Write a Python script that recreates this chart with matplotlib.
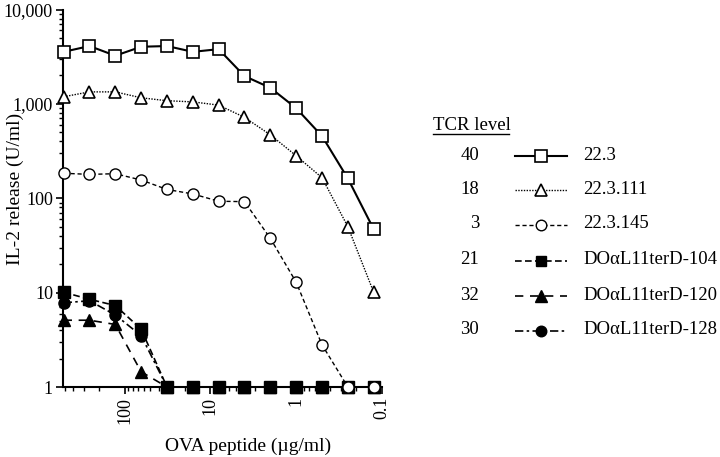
import matplotlib
matplotlib.use("Agg")
import matplotlib.pyplot as plt
from matplotlib.lines import Line2D
from matplotlib.ticker import FixedLocator, LogLocator, NullFormatter

plt.rcParams['font.family'] = ['Liberation Serif', 'DejaVu Serif']

# ---- data ----
ova = [512, 256, 128, 64, 32, 16, 8, 4, 2, 1, 0.5, 0.25, 0.125]
il2_223 = [3560, 4100, 3240, 4030, 4100, 3560, 3800, 1970, 1480, 900, 456, 162, 47]
il2_223_111 = [1190, 1340, 1340, 1160, 1080, 1050, 970, 720, 470, 282, 165, 50, 10.1]
il2_223_145 = [184, 179, 182, 156, 124, 111, 93, 92, 37.6, 12.9, 2.8, 1, 1]
il2_d104 = [10.1, 8.5, 7.3, 4.1, 1, 1, 1, 1, 1, 1, 1, 1, 1]
il2_d120 = [5.1, 5.1, 4.6, 1.45, 1, 1, 1, 1, 1, 1, 1, 1, 1]
il2_d128 = [7.8, 8.2, 5.8, 3.5, 1, 1, 1, 1, 1, 1, 1, 1, 1]

names = ["22.3", "22.3.111", "22.3.145", "DO\u03b1L11terD-104", "DO\u03b1L11terD-120", "DO\u03b1L11terD-128"]
tcr_levels = ["40", "18", "3", "21", "32", "30"]
series = [il2_223, il2_223_111, il2_223_145, il2_d104, il2_d120, il2_d128]

x_ticks = [100, 10, 1, 0.1]
x_tick_labels = ["100", "10", "1", "0.1"]
y_ticks = [1, 10, 100, 1000, 10000]
y_tick_labels = ["1", "10", "100", "1,000", "10,000"]

# ---- styles ----
styles = [
    dict(ls='-', lw=1.5, marker='s', ms=8.5, mfc='white', mec='black', mew=1.2, z=4),
    dict(ls=(0, (1, 1)), lw=1.0, marker='^', ms=9, mfc='white', mec='black', mew=1.2, z=4),
    dict(ls=(0, (3, 2)), lw=1.0, marker='o', ms=8, mfc='white', mec='black', mew=1.0, z=6),
    dict(ls=(0, (4, 2)), lw=1.2, marker='s', ms=8, mfc='black', mec='black', mew=1.0, z=5),
    dict(ls=(0, (5, 4)), lw=1.2, marker='^', ms=8.5, mfc='black', mec='black', mew=1.0, z=5),
    dict(ls=(0, (5, 2, 1.5, 2)), lw=1.2, marker='o', ms=8, mfc='black', mec='black', mew=1.0, z=5),
]

W, H = 720, 457
fig = plt.figure(figsize=(W / 100, H / 100), dpi=100)
ax_left, ax_right, ax_top, ax_bot = 62.7, 382, 9.5, 387
ax = fig.add_axes([ax_left / W, 1 - ax_bot / H, (ax_right - ax_left) / W, (ax_bot - ax_top) / H])

for ys, st in zip(series, styles):
    ax.plot(ova, ys, linestyle=st['ls'], lw=st['lw'], color='black', marker=st['marker'],
            ms=st['ms'], mfc=st['mfc'], mec=st['mec'], mew=st['mew'], clip_on=False, zorder=st['z'])

ax.set_xscale('log')
ax.set_yscale('log')
ax.set_xlim(525, 0.1)
ax.set_ylim(1, 10000)

ax.xaxis.set_major_locator(FixedLocator(x_ticks))
ax.set_xticklabels(x_tick_labels, rotation=90, fontsize=13)
ax.xaxis.set_minor_locator(LogLocator(base=10, subs=range(2, 10)))
ax.xaxis.set_minor_formatter(NullFormatter())
ax.yaxis.set_major_locator(FixedLocator(y_ticks))
ax.set_yticklabels(y_tick_labels, fontsize=13)
ax.yaxis.set_minor_locator(LogLocator(base=10, subs=range(2, 10)))
ax.yaxis.set_minor_formatter(NullFormatter())

ax.tick_params(which='major', direction='out', length=5, width=1.2, pad=2)
ax.tick_params(which='minor', direction='out', length=3, width=1.0)
for s in ['top', 'right']:
    ax.spines[s].set_visible(False)
for s in ['left', 'bottom']:
    ax.spines[s].set_linewidth(1.5)

aw = ax_right - ax_left
ah = ax_bot - ax_top
ax.set_xlabel("OVA peptide (\u00b5g/ml)", fontsize=14)
ax.xaxis.set_label_coords((248 - ax_left) / aw, (ax_bot - 438) / ah)
ax.set_ylabel("IL-2 release (U/ml)", fontsize=14)
ax.yaxis.set_label_coords((24 - ax_left) / aw, (ax_bot - 189) / ah)

# ---- custom legend table ----
def fx(px):
    return px / W

def fy(py):
    return 1 - py / H

fig.text(fx(433), fy(125), "TCR level", fontsize=13.5, ha='left', va='center')
fig.add_artist(Line2D([fx(433), fx(509)], [fy(133.5), fy(133.5)], color='black', lw=1.0,
                      transform=fig.transFigure))
row_y = [155, 189, 224, 260, 295, 330]
for lvl, name, st, yy in zip(tcr_levels, names, styles, row_y):
    fig.text(fx(479), fy(yy), lvl, fontsize=13.5, ha='right', va='center')
    fig.add_artist(Line2D([fx(515), fx(567)], [fy(yy + 1), fy(yy + 1)], color='black',
                          linestyle=st['ls'], lw=st['lw'], transform=fig.transFigure))
    fig.add_artist(Line2D([fx(541)], [fy(yy + 1)], color='black', linestyle='none',
                          marker=st['marker'], ms=st['ms'] * 0.95, mfc=st['mfc'], mec=st['mec'],
                          mew=st['mew'], transform=fig.transFigure))
    fig.text(fx(583), fy(yy), name, fontsize=13.5, ha='left', va='center')

fig.savefig("out.png", dpi=100)
